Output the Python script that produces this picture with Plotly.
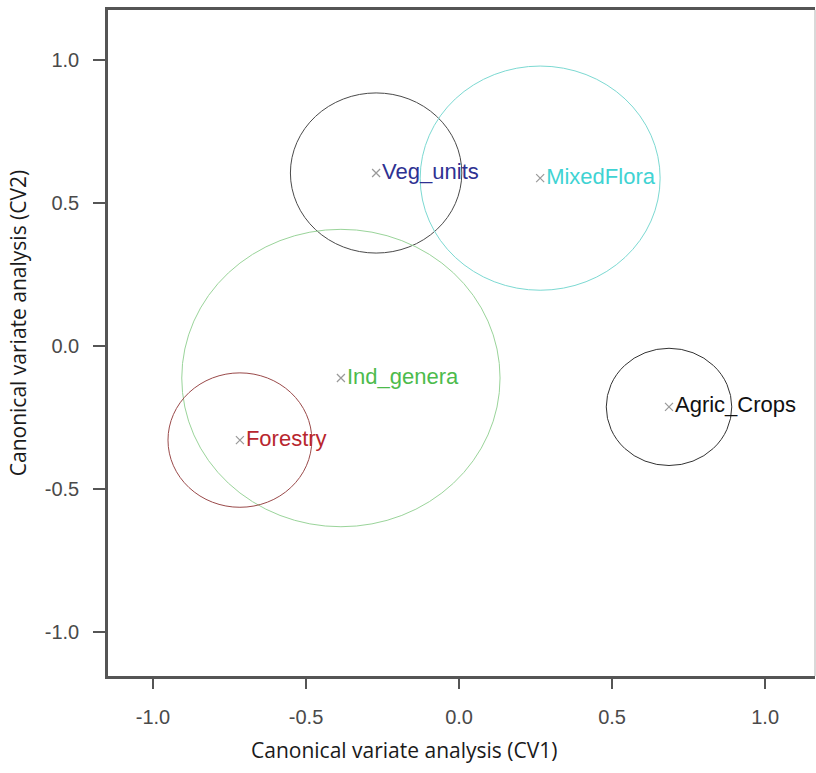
import plotly.graph_objects as go

groups = ["Veg_units", "MixedFlora", "Ind_genera", "Forestry", "Agric_Crops"]
cv1 = [-0.271, 0.265, -0.386, -0.716, 0.686]
cv2 = [0.605, 0.587, -0.112, -0.329, -0.213]
radius = [0.28, 0.392, 0.52, 0.235, 0.205]
text_colors = ["#2e3192", "#3fd3d3", "#4cbb4c", "#b8262e", "#111111"]
circle_colors = ["#4a4a4a", "#7cd9d2", "#9ad49a", "#9a4a4a", "#333333"]

tick_vals = [-1.0, -0.5, 0.0, 0.5, 1.0]
tick_text = ["-1.0", "-0.5", "0.0", "0.5", "1.0"]

x_title = "Canonical variate analysis (CV1)"
y_title = "Canonical variate analysis (CV2)"

fig = go.Figure()

fig.add_trace(go.Scatter(
    x=cv1, y=cv2, mode="markers+text",
    marker=dict(symbol="x-thin", size=8, line=dict(width=1.2, color="#999999"), color="#999999"),
    text=groups, textposition="middle right",
    textfont=dict(family="Liberation Sans, Arial", size=22, color=text_colors),
    showlegend=False, hoverinfo="skip", cliponaxis=False,
))

for x, y, r, c in zip(cv1, cv2, radius, circle_colors):
    fig.add_shape(type="circle", xref="x", yref="y",
                  x0=x - r, x1=x + r, y0=y - r, y1=y + r,
                  line=dict(color=c, width=1), layer="below")

# light right frame edge
fig.add_shape(type="line", xref="paper", yref="paper", x0=1, x1=1, y0=0, y1=1,
              line=dict(color="#cccccc", width=1.5))

title_font = dict(family="Open Sans, Liberation Sans", size=21, color="#1a1a1a")
fig.add_annotation(text=x_title, xref="paper", yref="paper", x=0.419, y=-0.111,
                   showarrow=False, font=title_font, xanchor="center", yanchor="middle")
fig.add_annotation(text=y_title, xref="paper", yref="paper", x=-0.127, y=0.53,
                   showarrow=False, font=title_font, textangle=-90,
                   xanchor="center", yanchor="middle")

fig.update_layout(
    width=816, height=773,
    margin=dict(l=108, r=1, t=10, b=97),
    paper_bgcolor="white", plot_bgcolor="white",
    font=dict(family="Liberation Sans, Arial", color="#444444"),
    xaxis=dict(range=[-1.147, 1.163], tickvals=tick_vals, ticktext=tick_text,
               showgrid=False, zeroline=False, showline=True, mirror=True,
               linecolor="#555555", linewidth=2.5, ticks="outside", ticklen=10,
               tickwidth=2, tickcolor="#555555", ticklabelstandoff=11,
               tickfont=dict(size=20, color="#4a4a4a")),
    yaxis=dict(range=[-1.154, 1.175], tickvals=tick_vals, ticktext=tick_text,
               showgrid=False, zeroline=False, showline=True,
               linecolor="#555555", linewidth=2.5, ticks="outside", ticklen=12,
               tickwidth=2, tickcolor="#555555", ticklabelstandoff=10,
               tickfont=dict(size=20, color="#4a4a4a")),
)

fig.write_html("out.html",
               config={"displayModeBar": False},
               post_script="document.body.style.margin='0';document.body.style.overflow='hidden';")
